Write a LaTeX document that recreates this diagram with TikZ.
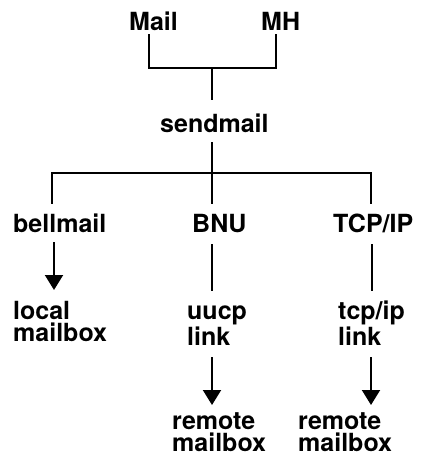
\documentclass[tikz,border=0pt]{standalone}
\usepackage{fontspec}
\setmainfont{TeX Gyre Heros}
\usetikzlibrary{arrows.meta}

\begin{document}
\begin{tikzpicture}[x=1pt,y=-1pt,
  lbl/.style={anchor=base west,inner sep=0pt,font=\fontsize{25}{22}\selectfont\bfseries},
  lbl2/.style={lbl,align=left},
  wire/.style={line width=2pt,line cap=rect},
  flow/.style={line width=2pt,-{Triangle[length=15pt,width=18pt]}}]
\useasboundingbox (0,0) rectangle (433,466);

% programs and agents (two-line labels are placed by their last baseline)
\node[lbl] (mail) at (129,30) {Mail};
\node[lbl] (mh) at (261,30) {MH};
\node[lbl] (sendmail) at (160,132) {sendmail};
\node[lbl] (bellmail) at (13,232) {bellmail};
\node[lbl] (bnu) at (192,232) {BNU};
\node[lbl] (tcpip) at (333,232) {TCP/IP};
\node[lbl2] (local) at (13,341) {local\\mailbox};
\node[lbl2] (uucp) at (187,345) {uucp\\link};
\node[lbl2] (tcplink) at (338,345) {tcp/ip\\link};
\node[lbl2] (remoteA) at (172,451) {remote\\mailbox};
\node[lbl2] (remoteB) at (298,451) {remote\\mailbox};

% joints and line ends of the tree
\coordinate (mailFoot) at (149,35);
\coordinate (mhFoot) at (276,35);
\coordinate (topJoin) at (212,68);
\coordinate (sendTop) at (212,99);
\coordinate (sendFoot) at (212,143);
\coordinate (midJoin) at (212,173);
\coordinate (bellTop) at (52,203);
\coordinate (bnuTop) at (212,203);
\coordinate (tcpTop) at (371,203);
\coordinate (bellFoot) at (54,242);
\coordinate (localHead) at (54,290);
\coordinate (bnuFoot) at (212,245);
\coordinate (uucpHead) at (212,290);
\coordinate (tcpFoot) at (372,245);
\coordinate (tcplinkHead) at (372,290);
\coordinate (uucpFoot) at (212,357);
\coordinate (remoteAHead) at (212,405);
\coordinate (tcplinkFoot) at (371,357);
\coordinate (remoteBHead) at (371,405);

% user agents merge into sendmail
\draw[wire] (mailFoot) |- (topJoin) -| (mhFoot);
\draw[wire] (topJoin) -- (sendTop);

% sendmail fans out to the delivery agents
\draw[wire] (sendFoot) -- (midJoin);
\draw[wire] (bellTop) |- (midJoin) -| (tcpTop);
\draw[wire] (midJoin) -- (bnuTop);

% delivery paths
\draw[flow] (bellFoot) -- (localHead);
\draw[wire] (bnuFoot) -- (uucpHead);
\draw[wire] (tcpFoot) -- (tcplinkHead);
\draw[flow] (uucpFoot) -- (remoteAHead);
\draw[flow] (tcplinkFoot) -- (remoteBHead);
\end{tikzpicture}
\end{document}
